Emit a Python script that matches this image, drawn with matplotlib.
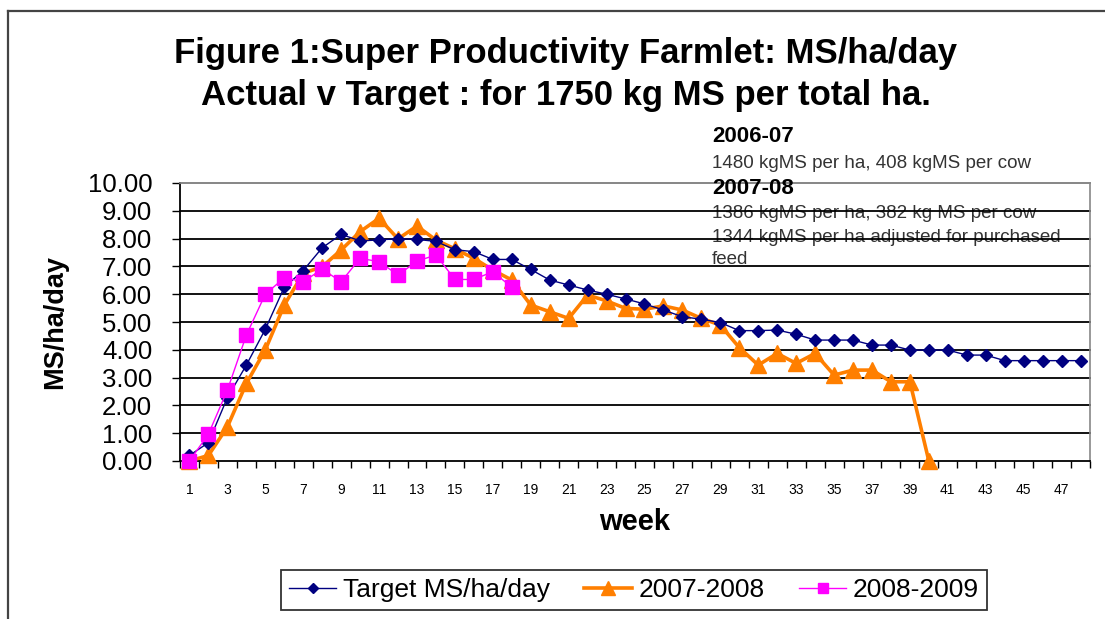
import matplotlib
matplotlib.use("Agg")
import matplotlib.pyplot as plt
from matplotlib.lines import Line2D
import numpy as np

plt.rcParams['font.family'] = ['Liberation Sans', 'DejaVu Sans']

weeks = list(range(1, 49))
target = [0.2, 0.66, 2.28, 3.45, 4.74, 6.25, 6.85, 7.67, 8.15, 7.92,
          7.95, 8.0, 7.97, 7.9, 7.6, 7.53, 7.25, 7.25, 6.89, 6.51,
          6.33, 6.15, 6.0, 5.83, 5.65, 5.43, 5.19, 5.1, 4.98, 4.69,
          4.69, 4.71, 4.56, 4.35, 4.35, 4.35, 4.17, 4.17, 3.99, 3.99,
          3.99, 3.81, 3.81, 3.61, 3.61, 3.61, 3.61, 3.61]
s2007 = [0.0, 0.2, 1.23, 2.79, 4.0, 5.61, 6.75, 6.99, 7.59, 8.25,
         8.73, 7.99, 8.45, 7.95, 7.63, 7.29, 6.87, 6.51, 5.61, 5.37,
         5.13, 5.97, 5.76, 5.49, 5.46, 5.58, 5.43, 5.13, 4.89, 4.08,
         3.45, 3.87, 3.51, 3.87, 3.09, 3.27, 3.27, 2.85, 2.85, 0.0]
s2008 = [0.0, 0.97, 2.55, 4.53, 6.0, 6.59, 6.45, 6.9, 6.45, 7.29,
         7.17, 6.69, 7.19, 7.41, 6.53, 6.53, 6.81, 6.25]
yticks = [0, 1, 2, 3, 4, 5, 6, 7, 8, 9, 10]
xlabels = list(range(1, 48, 2))

W, H = 1105, 619
fig = plt.figure(figsize=(W / 100, H / 100), dpi=100)
fig.patch.set_facecolor('white')

# chart border (cropped at right and bottom)
fig.add_artist(Line2D([8 / W, 8 / W], [1 - 11 / H, 0], color='#444444', lw=1.6, transform=fig.transFigure))
fig.add_artist(Line2D([8 / W, 1], [1 - 11 / H, 1 - 11 / H], color='#444444', lw=1.6, transform=fig.transFigure))

ax = fig.add_axes([180 / W, 1 - 461 / H, (1090 - 180) / W, (461 - 183) / H])

ax.plot(weeks[:len(s2007)], s2007, color='#FF7F00', lw=2.6, marker='^', ms=12,
        markeredgecolor='#FF7F00', label='2007-2008', zorder=3)
ax.plot(weeks, target, color='#000080', lw=1.0, marker='D', ms=6,
        markeredgecolor='#000080', label='Target MS/ha/day', zorder=4)
ax.plot(weeks[:len(s2008)], s2008, color='#FF00FF', lw=1.0, marker='s', ms=9.5,
        markeredgecolor='#FF00FF', label='2008-2009', zorder=5)

ax.set_xlim(0.5, 48.5)
ax.set_ylim(0, 10)
ax.set_yticks(yticks)
ax.set_yticklabels([f"{v:.2f}" for v in yticks], fontsize=18.5)
ax.set_xticks(xlabels)
ax.set_xticklabels([str(v) for v in xlabels], fontsize=10)
ax.set_xticks(np.arange(0.5, 49, 1), minor=True)
ax.tick_params(axis='x', which='major', length=0, pad=16)
ax.tick_params(axis='x', which='minor', length=5, width=1, direction='out')
ax.tick_params(axis='y', which='major', length=6, width=1, direction='out', pad=14)

for v in yticks[1:]:
    ax.axhline(v, color='black' if v < 10 else '#888888', lw=1.3, zorder=2)
for side in ['top', 'right']:
    ax.spines[side].set_color('#888888')
    ax.spines[side].set_linewidth(1.2)
for side in ['left', 'bottom']:
    ax.spines[side].set_color('black')
    ax.spines[side].set_linewidth(1.3)
for ln in ax.get_lines():
    ln.set_clip_on(False)

ax.set_xlabel('week', fontsize=21, fontweight='bold', labelpad=8)
fig.text(55 / W, 1 - 322 / H, 'MS/ha/day', rotation=90, ha='center', va='center',
         fontsize=19.5, fontweight='bold')

# title
fig.text(566 / W, 1 - 53 / H, 'Figure 1:Super Productivity Farmlet: MS/ha/day',
         ha='center', va='center', fontsize=25, fontweight='bold')
fig.text(566 / W, 1 - 96 / H, 'Actual v Target : for 1750 kg MS per total ha.',
         ha='center', va='center', fontsize=25, fontweight='bold')

# annotation box text
tx = 712 / W
fig.text(tx, 1 - 137 / H, '2006-07', fontsize=16, fontweight='bold', va='center', zorder=0)
fig.text(tx, 1 - 163 / H, '1480 kgMS per ha, 408 kgMS per cow', fontsize=13.5, color='#333333', va='center', zorder=0)
fig.text(tx, 1 - 188 / H, '2007-08', fontsize=16, fontweight='bold', va='center', zorder=0)
ax.text(tx, 1 - 213 / H, '1386 kgMS per ha, 382 kg MS per cow', fontsize=13.5, color='#333333',
        va='center', transform=fig.transFigure, zorder=1)
ax.text(tx, 1 - 237 / H, '1344 kgMS per ha adjusted for purchased', fontsize=13.5, color='#333333',
        va='center', transform=fig.transFigure, zorder=1)
ax.text(tx, 1 - 259 / H, 'feed', fontsize=13.5, color='#333333',
        va='center', transform=fig.transFigure, zorder=1)

handles, labels = ax.get_legend_handles_labels()
order = [1, 0, 2]
leg = fig.legend([handles[i] for i in order], [labels[i] for i in order],
                 loc='center', bbox_to_anchor=(634 / W, 1 - 590 / H), ncol=3,
                 fontsize=19, frameon=True, fancybox=False, edgecolor='black',
                 handlelength=1.8, handletextpad=0.25, columnspacing=1.3,
                 borderpad=0.3, markerscale=0.8)
leg.get_frame().set_linewidth(1.3)

fig.savefig('out.png', dpi=100, facecolor='white')
